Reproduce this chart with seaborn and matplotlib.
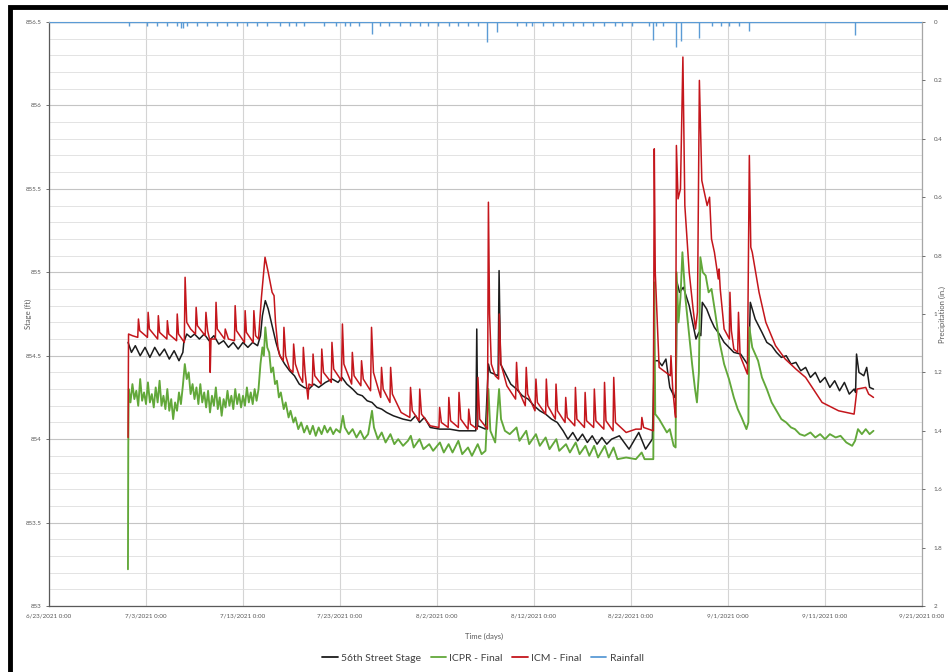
import pandas as pd
import matplotlib
matplotlib.use("Agg")
import matplotlib.pyplot as plt
from matplotlib.lines import Line2D
from matplotlib.patches import Rectangle
import seaborn as sns

# -------------------------------
# Data (days after 6/23/2021, stage in ft, rain in inches)
# -------------------------------
start = pd.Timestamp("2021-06-23")

stage_day = [8.15, 8.5, 8.9, 9.4, 9.9, 10.4, 10.9, 11.4,
             11.9, 12.4, 12.9, 13.4, 13.8, 13.9, 14.2, 14.6,
             15.0, 15.5, 16.0, 16.5, 17.0, 17.5, 18.0, 18.5,
             19.0, 19.5, 20.0, 20.5, 21.0, 21.5, 21.8, 22.0,
             22.3, 22.6, 23.0, 23.4, 23.8, 24.3, 24.8, 25.3,
             25.8, 26.3, 26.8, 27.3, 27.8, 28.5, 29.2, 29.8,
             30.2, 30.7, 31.3, 31.8, 32.3, 32.8, 33.3, 33.8,
             34.3, 34.8, 35.5, 36.5, 37.3, 37.8, 38.2, 38.7,
             39.3, 40.3, 41.3, 42.3, 43.3, 44.0, 44.1, 44.2,
             45.0, 45.3, 45.5, 46.3, 46.4, 46.55, 47.0, 47.6,
             48.2, 48.8, 49.4, 50.0, 50.6, 51.2, 51.8, 52.4,
             53.0, 53.5, 54.0, 54.5, 55.0, 55.5, 56.0, 56.5,
             57.0, 57.5, 58.0, 58.8, 59.8, 60.8, 61.5, 62.2,
             62.4, 62.8, 63.2, 63.6, 64.0, 64.5, 64.65, 64.75,
             65.0, 65.4, 66.0, 66.7, 67.0, 67.2, 67.35, 67.8,
             68.2, 68.6, 69.1, 69.6, 70.1, 70.6, 71.3, 72.0,
             72.15, 72.3, 72.8, 73.5, 74.0, 74.5, 75.0, 75.5,
             76.0, 76.5, 77.0, 77.5, 78.0, 78.5, 79.0, 79.5,
             80.0, 80.5, 81.0, 81.5, 82.0, 82.5, 83.0, 83.15,
             83.25, 83.5, 84.0, 84.3, 84.6, 85.0]
stage_ft = [854.58, 854.52, 854.56, 854.50, 854.55, 854.49, 854.55, 854.50,
            854.54, 854.48, 854.53, 854.47, 854.52, 854.58, 854.63, 854.61,
            854.63, 854.60, 854.63, 854.59, 854.62, 854.57, 854.59, 854.55,
            854.58, 854.54, 854.58, 854.55, 854.58, 854.56, 854.62, 854.74,
            854.83, 854.78, 854.68, 854.58, 854.50, 854.45, 854.41, 854.38,
            854.33, 854.31, 854.30, 854.33, 854.31, 854.34, 854.36, 854.34,
            854.37, 854.33, 854.30, 854.27, 854.26, 854.23, 854.22, 854.19,
            854.18, 854.16, 854.14, 854.12, 854.11, 854.14, 854.10, 854.13,
            854.07, 854.06, 854.06, 854.05, 854.05, 854.05, 854.66, 854.08,
            854.06, 854.45, 854.40, 854.38, 855.01, 854.45, 854.40, 854.33,
            854.30, 854.26, 854.24, 854.20, 854.17, 854.15, 854.12, 854.10,
            854.05, 854.00, 854.04, 853.99, 854.03, 853.98, 854.02, 853.97,
            854.01, 853.97, 854.00, 854.02, 853.94, 854.04, 853.94, 854.00,
            854.47, 854.47, 854.44, 854.48, 854.31, 854.25, 854.30, 854.94,
            854.88, 854.91, 854.80, 854.60, 854.64, 854.62, 854.82, 854.78,
            854.72, 854.67, 854.63, 854.58, 854.55, 854.52, 854.51, 854.45,
            854.47, 854.82, 854.72, 854.64, 854.58, 854.56, 854.52, 854.49,
            854.50, 854.45, 854.46, 854.41, 854.43, 854.37, 854.40, 854.34,
            854.37, 854.31, 854.35, 854.29, 854.34, 854.27, 854.30, 854.28,
            854.51, 854.40, 854.38, 854.43, 854.31, 854.30]

icpr_day = [8.14, 8.17, 8.22, 8.4, 8.6, 8.8, 9.0, 9.2, 9.4, 9.6,
            9.8, 10.0, 10.2, 10.4, 10.6, 10.8, 11.0, 11.2, 11.4, 11.6,
            11.8, 12.0, 12.2, 12.4, 12.6, 12.8, 13.0, 13.2, 13.4, 13.6,
            13.8, 14.0, 14.2, 14.4, 14.6, 14.8, 15.0, 15.2, 15.4, 15.6,
            15.8, 16.0, 16.2, 16.4, 16.6, 16.8, 17.0, 17.2, 17.4, 17.6,
            17.8, 18.0, 18.2, 18.4, 18.6, 18.8, 19.0, 19.2, 19.4, 19.6,
            19.8, 20.0, 20.2, 20.4, 20.6, 20.8, 21.0, 21.2, 21.4, 21.6,
            21.8, 22.0, 22.15, 22.3, 22.5, 22.7, 22.9, 23.1, 23.3, 23.5,
            23.7, 23.9, 24.2, 24.4, 24.7, 24.9, 25.2, 25.4, 25.7, 26.0,
            26.3, 26.6, 26.9, 27.2, 27.5, 27.8, 28.1, 28.4, 28.7, 29.0,
            29.3, 29.6, 30.0, 30.3, 30.5, 30.9, 31.3, 31.7, 32.1, 32.5,
            32.9, 33.3, 33.5, 33.9, 34.3, 34.7, 35.2, 35.6, 36.0, 36.5,
            37.0, 37.3, 37.6, 38.2, 38.6, 39.2, 39.6, 40.3, 40.7, 41.2,
            41.6, 42.2, 42.6, 43.2, 43.6, 44.2, 44.6, 45.0, 45.3, 45.5,
            46.0, 46.4, 46.6, 47.0, 47.5, 48.2, 48.5, 49.2, 49.5, 50.2,
            50.6, 51.2, 51.6, 52.3, 52.6, 53.3, 53.7, 54.3, 54.7, 55.3,
            55.7, 56.2, 56.6, 57.3, 57.7, 58.2, 58.6, 59.5, 60.5, 61.1,
            61.4, 62.3, 62.4, 62.5, 62.9, 63.3, 63.7, 64.0, 64.4, 64.6,
            64.7, 64.9, 65.1, 65.3, 65.6, 66.0, 66.3, 66.6, 66.8, 67.0,
            67.15, 67.4, 67.7, 68.0, 68.3, 68.7, 69.1, 69.6, 70.1, 70.6,
            71.0, 71.4, 71.9, 72.1, 72.2, 72.5, 73.1, 73.5, 74.0, 74.5,
            74.9, 75.5, 76.0, 76.5, 76.9, 77.4, 77.9, 78.5, 79.0, 79.5,
            80.0, 80.5, 81.1, 81.6, 82.2, 82.8, 83.1, 83.4, 83.8, 84.2,
            84.6, 85.0]
icpr_ft = [853.22, 853.95, 854.30, 854.22, 854.33, 854.24, 854.29, 854.20, 854.36, 854.23,
           854.28, 854.21, 854.34, 854.22, 854.27, 854.19, 854.31, 854.22, 854.35, 854.20,
           854.26, 854.18, 854.30, 854.17, 854.24, 854.12, 854.22, 854.17, 854.28, 854.21,
           854.32, 854.45, 854.36, 854.40, 854.27, 854.33, 854.24, 854.31, 854.21, 854.33,
           854.22, 854.28, 854.19, 854.29, 854.16, 854.26, 854.20, 854.31, 854.18, 854.25,
           854.14, 854.24, 854.19, 854.29, 854.20, 854.26, 854.18, 854.30, 854.21, 854.27,
           854.19, 854.26, 854.20, 854.31, 854.22, 854.28, 854.21, 854.30, 854.23, 854.30,
           854.45, 854.55, 854.50, 854.67, 854.55, 854.52, 854.40, 854.43, 854.33, 854.35,
           854.25, 854.28, 854.18, 854.22, 854.13, 854.17, 854.10, 854.13, 854.06, 854.10,
           854.04, 854.08, 854.03, 854.08, 854.02, 854.07, 854.03, 854.08, 854.04, 854.07,
           854.03, 854.06, 854.04, 854.14, 854.07, 854.03, 854.06, 854.01, 854.05, 854.00,
           854.03, 854.17, 854.07, 854.00, 854.04, 853.98, 854.03, 853.97, 854.00, 853.96,
           853.99, 854.02, 853.95, 854.00, 853.94, 853.97, 853.93, 853.98, 853.92, 853.97,
           853.92, 853.99, 853.91, 853.95, 853.90, 853.97, 853.91, 853.93, 854.30, 854.05,
           853.98, 854.30, 854.12, 854.05, 854.03, 854.07, 853.99, 854.05, 853.97, 854.03,
           853.96, 854.01, 853.94, 854.00, 853.93, 853.97, 853.92, 853.98, 853.91, 853.96,
           853.90, 853.96, 853.89, 853.96, 853.89, 853.95, 853.88, 853.89, 853.88, 853.92,
           853.88, 853.88, 854.94, 854.15, 854.12, 854.08, 854.04, 854.06, 853.96, 853.95,
           855.00, 854.70, 854.85, 855.12, 854.85, 854.62, 854.45, 854.30, 854.22, 854.40,
           855.09, 855.00, 854.98, 854.88, 854.90, 854.75, 854.59, 854.45, 854.36, 854.25,
           854.18, 854.13, 854.06, 854.10, 854.67, 854.55, 854.47, 854.37, 854.30, 854.22,
           854.18, 854.12, 854.10, 854.07, 854.06, 854.03, 854.02, 854.04, 854.01, 854.03,
           854.00, 854.03, 854.01, 854.02, 853.98, 853.96, 853.99, 854.06, 854.03, 854.06,
           854.03, 854.05]

icm_day = [8.15, 8.20, 8.60, 9.15, 9.22, 9.35, 10.15, 10.22,
           10.35, 11.20, 11.27, 11.40, 12.15, 12.20, 12.35, 13.15,
           13.22, 13.35, 13.95, 14.03, 14.20, 14.60, 15.10, 15.17,
           15.30, 16.10, 16.18, 16.35, 16.55, 16.62, 16.70, 17.15,
           17.22, 17.35, 18.10, 18.17, 18.50, 19.12, 19.19, 19.33,
           20.15, 20.22, 20.35, 21.05, 21.12, 21.30, 21.60, 21.90,
           22.27, 22.60, 23.00, 23.20, 23.35, 23.60, 23.80, 24.15,
           24.22, 24.40, 24.80, 25.15, 25.22, 25.40, 25.80, 26.15,
           26.22, 26.40, 26.70, 26.80, 27.15, 27.22, 27.40, 28.05,
           28.12, 28.30, 29.10, 29.17, 29.35, 30.15, 30.25, 30.40,
           31.20, 31.27, 31.45, 32.15, 32.22, 32.40, 33.15, 33.25,
           33.45, 34.20, 34.28, 34.45, 35.15, 35.22, 35.40, 36.30,
           37.20, 37.27, 37.45, 38.15, 38.22, 38.40, 39.30, 40.20,
           40.27, 40.45, 41.15, 41.22, 41.40, 42.20, 42.27, 42.45,
           43.20, 43.27, 43.45, 44.15, 44.22, 44.40, 45.20, 45.30,
           45.42, 45.60, 46.00, 46.35, 46.42, 46.60, 47.20, 48.10,
           48.20, 48.35, 49.10, 49.20, 49.35, 50.10, 50.20, 50.35,
           51.20, 51.27, 51.42, 52.20, 52.27, 52.42, 53.20, 53.27,
           53.42, 54.20, 54.27, 54.42, 55.20, 55.27, 55.42, 56.15,
           56.22, 56.38, 57.20, 57.27, 57.42, 58.15, 58.22, 58.40,
           59.50, 60.50, 61.05, 61.12, 61.30, 62.30, 62.40, 62.50,
           62.90, 63.60, 64.05, 64.12, 64.30, 64.55, 64.60, 64.68,
           64.85, 65.10, 65.35, 65.55, 66.00, 66.40, 66.65, 66.85,
           67.05, 67.30, 67.85, 68.10, 68.30, 68.60, 69.00, 69.08,
           69.20, 69.60, 70.15, 70.20, 70.35, 70.60, 71.00, 71.08,
           71.25, 72.00, 72.20, 72.35, 72.50, 73.20, 73.90, 74.90,
           75.90, 77.00, 78.00, 79.70, 81.40, 83.00, 83.30, 84.20,
           84.50, 85.00]
icm_ft = [854.01, 854.63, 854.62, 854.61, 854.72, 854.65, 854.61, 854.76,
          854.66, 854.60, 854.74, 854.64, 854.60, 854.71, 854.63, 854.59,
          854.75, 854.63, 854.58, 854.97, 854.70, 854.66, 854.63, 854.79,
          854.68, 854.62, 854.76, 854.65, 854.60, 854.40, 854.60, 854.60,
          854.82, 854.66, 854.60, 854.66, 854.60, 854.59, 854.80, 854.65,
          854.58, 854.77, 854.64, 854.58, 854.77, 854.62, 854.60, 854.85,
          855.09, 855.00, 854.88, 854.86, 854.70, 854.55, 854.50, 854.47,
          854.67, 854.50, 854.42, 854.40, 854.57, 854.45, 854.38, 854.34,
          854.55, 854.40, 854.24, 854.33, 854.32, 854.51, 854.38, 854.33,
          854.54, 854.40, 854.34, 854.58, 854.42, 854.35, 854.69, 854.45,
          854.33, 854.52, 854.38, 854.32, 854.47, 854.36, 854.29, 854.67,
          854.40, 854.25, 854.43, 854.30, 854.22, 854.43, 854.27, 854.16,
          854.13, 854.31, 854.17, 854.11, 854.30, 854.15, 854.08, 854.07,
          854.19, 854.10, 854.07, 854.25, 854.11, 854.07, 854.28, 854.12,
          854.06, 854.18, 854.09, 854.06, 854.37, 854.12, 854.06, 855.42,
          854.75, 854.45, 854.38, 854.36, 854.75, 854.45, 854.32, 854.24,
          854.46, 854.30, 854.20, 854.43, 854.27, 854.17, 854.36, 854.22,
          854.15, 854.36, 854.20, 854.12, 854.33, 854.17, 854.10, 854.25,
          854.13, 854.08, 854.31, 854.12, 854.07, 854.28, 854.11, 854.07,
          854.30, 854.11, 854.06, 854.34, 854.11, 854.05, 854.37, 854.10,
          854.04, 854.06, 854.06, 854.13, 854.07, 854.05, 855.74, 855.00,
          854.43, 854.40, 854.38, 854.50, 854.30, 854.15, 854.13, 855.76,
          855.44, 855.50, 856.29, 855.40, 855.00, 854.78, 854.66, 854.76,
          856.15, 855.55, 855.40, 855.45, 855.20, 855.12, 854.96, 855.02,
          854.90, 854.66, 854.60, 854.88, 854.65, 854.54, 854.52, 854.76,
          854.50, 854.39, 855.70, 855.15, 855.12, 854.88, 854.70, 854.56,
          854.48, 854.42, 854.37, 854.22, 854.17, 854.15, 854.30, 854.31,
          854.27, 854.25]

rain_day = [8.2, 10.1, 11.1, 12.2, 13.2, 13.6, 13.8, 14.2, 15.3, 16.3,
            17.3, 18.4, 19.4, 20.4, 21.4, 22.5, 23.8, 24.7, 25.5, 26.3,
            28.3, 29.6, 30.5, 31.0, 32.0, 33.3, 34.1, 35.1, 36.2, 37.2,
            38.2, 39.1, 40.1, 41.2, 42.2, 43.2, 44.2, 45.2, 46.2, 48.2,
            49.2, 49.8, 50.9, 52.0, 53.0, 54.0, 55.1, 56.1, 57.2, 58.3,
            59.1, 60.1, 61.9, 62.3, 62.6, 63.3, 64.6, 65.2, 67.0, 68.3,
            69.3, 70.1, 71.1, 72.2, 83.1]
rain_in = [0.015, 0.012, 0.015, 0.015, 0.015, 0.02, 0.02, 0.015, 0.012, 0.015,
           0.015, 0.012, 0.015, 0.012, 0.015, 0.015, 0.012, 0.015, 0.012, 0.015,
           0.015, 0.015, 0.012, 0.015, 0.015, 0.04, 0.015, 0.012, 0.015, 0.015,
           0.015, 0.012, 0.015, 0.015, 0.012, 0.015, 0.015, 0.07, 0.035, 0.015,
           0.015, 0.012, 0.015, 0.015, 0.015, 0.012, 0.015, 0.015, 0.012, 0.015,
           0.012, 0.015, 0.015, 0.06, 0.015, 0.015, 0.085, 0.065, 0.055, 0.015,
           0.015, 0.015, 0.012, 0.03, 0.045]

tick_day = [0, 10, 20, 30, 40, 50, 60, 70, 80, 90]
tick_labels = ["6/23/2021 0:00", "7/3/2021 0:00", "7/13/2021 0:00", "7/23/2021 0:00",
               "8/2/2021 0:00", "8/12/2021 0:00", "8/22/2021 0:00", "9/1/2021 0:00",
               "9/11/2021 0:00", "9/21/2021 0:00"]
stage_ticks = [853, 853.5, 854, 854.5, 855, 855.5, 856, 856.5]
stage_labels = ["853", "853.5", "854", "854.5", "855", "855.5", "856", "856.5"]
rain_ticks = [0, 0.2, 0.4, 0.6, 0.8, 1, 1.2, 1.4, 1.6, 1.8, 2]
rain_labels = ["0", "0.2", "0.4", "0.6", "0.8", "1", "1.2", "1.4", "1.6", "1.8", "2"]

series_names = ["56th Street Stage", "ICPR - Final", "ICM - Final"]
series_colors = ["#1c1c1c", "#62a83a", "#c4161c"]
rain_color = "#5b9bd5"


def to_time(days):
    return start + pd.to_timedelta(days, unit="D")


frames = []
for name, d, v in zip(series_names, [stage_day, icpr_day, icm_day],
                      [stage_ft, icpr_ft, icm_ft]):
    assert len(d) == len(v)
    frames.append(pd.DataFrame({"time": to_time(d), "stage": v, "series": name}))
df = pd.concat(frames, ignore_index=True)

# -------------------------------
# Plot
# -------------------------------
sns.set_theme(style="white")
plt.rcParams["font.family"] = ["Lato", "DejaVu Sans"]

fig = plt.figure(figsize=(9.48, 6.72), dpi=100)
ax = fig.add_axes([49 / 948, 66 / 672, 873 / 948, 584 / 672])

sns.lineplot(data=df, x="time", y="stage", hue="series", hue_order=series_names,
             palette=series_colors, estimator=None, sort=False, linewidth=1.1,
             legend=False, ax=ax)
# the ICPR trace looks a bit heavier in the original
ax.lines[1].set_linewidth(1.35)

ax.set_xlim(to_time(0), to_time(90))
ax.set_ylim(853, 856.5)
ax.set_xticks(to_time(tick_day))
ax.set_xticklabels(tick_labels)
ax.set_yticks(stage_ticks)
ax.set_yticklabels(stage_labels)
ax.set_yticks([853 + 0.1 * i for i in range(36)], minor=True)
ax.grid(which="major", axis="y", color="#c4c4c4", linewidth=0.8)
ax.grid(which="major", axis="x", color="#d4d4d4", linewidth=0.8)
ax.grid(which="minor", axis="y", color="#dedede", linewidth=0.6)
ax.set_axisbelow(True)
ax.tick_params(axis="both", which="major", labelsize=4.5, colors="#595959",
               length=2.5, width=0.6, pad=3)
ax.tick_params(axis="y", which="minor", length=0)
ax.set_xlabel("Time (days)", fontsize=5.5, color="#595959")
ax.set_ylabel("Stage (ft)", fontsize=5.5, color="#595959")
ax.xaxis.set_label_coords(0.498, -0.046)
ax.yaxis.set_label_coords(-0.019, 0.5)
for side, col in [("left", "#5a5a5a"), ("bottom", "#5a5a5a"),
                  ("right", "#a6a6a6"), ("top", "#c9c9c9")]:
    ax.spines[side].set_color(col)
    ax.spines[side].set_linewidth(0.9)

# Rainfall on inverted secondary axis
ax2 = ax.twinx()
ax2.hlines(0, to_time(0), to_time(90), color=rain_color, linewidth=1.0)
ax2.vlines(to_time(rain_day), 0, rain_in, color=rain_color, linewidth=1.0)
ax2.set_ylim(2, 0)
ax2.set_yticks(rain_ticks)
ax2.set_yticklabels(rain_labels)
ax2.tick_params(axis="y", labelsize=4.5, colors="#595959", length=2.5,
                width=0.6, pad=6)
ax2.set_ylabel("Precipitation (in.)", fontsize=5.5, color="#595959")
ax2.yaxis.set_label_coords(1.019, 0.5)
for s in ax2.spines.values():
    s.set_visible(False)

handles = [Line2D([], [], color=c, lw=1.3) for c in series_colors + [rain_color]]
fig.legend(handles, series_names + ["Rainfall"], loc="center",
           bbox_to_anchor=(483 / 948, 1 - 658 / 672), ncol=4, frameon=False,
           fontsize=7.5, handlelength=1.5, handletextpad=0.3,
           columnspacing=0.9, labelcolor="#404040")

# black photo frame on left/top
fig.patches.append(Rectangle((10 / 948, -0.2), 1.5, 1.2 - 7 / 672,
                             transform=fig.transFigure, fill=False,
                             edgecolor="black", linewidth=3.5, zorder=10))

fig.savefig("out.png", dpi=100)
